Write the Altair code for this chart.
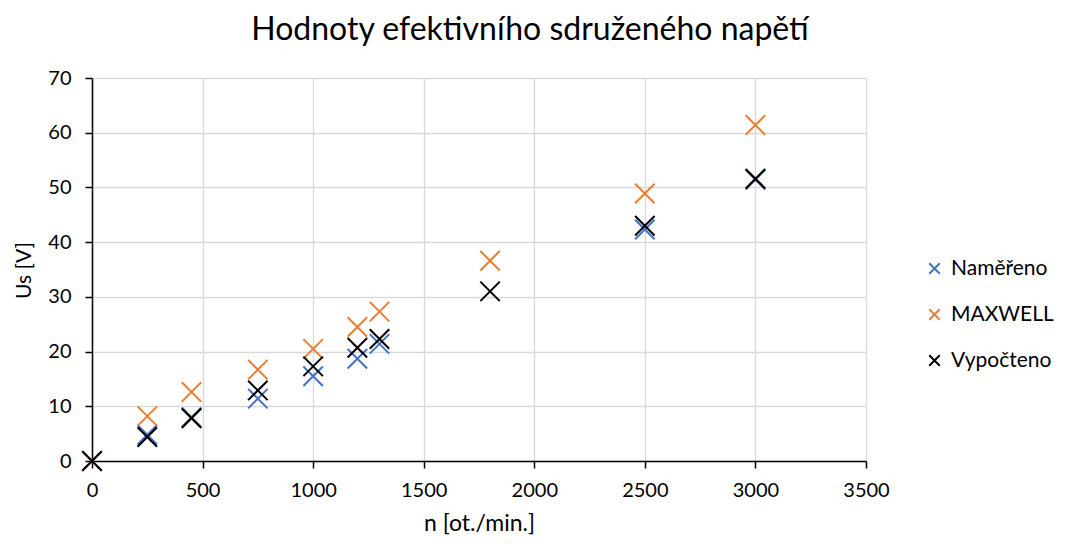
import altair as alt
import pandas as pd

series_names = ["Naměřeno", "MAXWELL", "Vypočteno"]
series_colors = ["#4472C4", "#ED7D31", "#000000"]

n_namereno = [0, 250, 450, 750, 1000, 1200, 1300, 2500, 3000]
us_namereno = [0, 4.8, 8.0, 11.4, 15.5, 18.7, 21.4, 42.3, 51.4]

n_maxwell = [0, 250, 450, 750, 1000, 1200, 1300, 1800, 2500, 3000]
us_maxwell = [0, 8.2, 12.6, 16.7, 20.5, 24.5, 27.3, 36.6, 48.9, 61.4]

n_vypocteno = [0, 250, 450, 750, 1000, 1200, 1300, 1800, 2500, 3000]
us_vypocteno = [0, 4.4, 7.8, 12.9, 17.3, 20.7, 22.3, 31.0, 43.0, 51.6]

x_ticks = [0, 500, 1000, 1500, 2000, 2500, 3000, 3500]
y_ticks = [0, 10, 20, 30, 40, 50, 60, 70]

rows = []
for name, xs, ys in zip(series_names,
                        [n_namereno, n_maxwell, n_vypocteno],
                        [us_namereno, us_maxwell, us_vypocteno]):
    for x, y in zip(xs, ys):
        rows.append({"serie": name, "n": x, "us": y})
df = pd.DataFrame(rows)

XPATH = "M-1,-1L1,1M-1,1L1,-1"
FONT = "Lato"

chart = alt.Chart(df).mark_point(
    shape=XPATH, filled=False, size=380, strokeWidth=2, opacity=1
).encode(
    x=alt.X("n:Q", scale=alt.Scale(domain=[0, 3500], nice=False),
            axis=alt.Axis(values=x_ticks, title="n [ot./min.]", format="d",
                          labelFlush=False, titleFontSize=23, titlePadding=12)),
    y=alt.Y("us:Q", scale=alt.Scale(domain=[0, 70], nice=False),
            axis=alt.Axis(values=y_ticks, title="Us [V]", format="d",
                          labelFlush=False, titleFontSize=21,
                          titleX=-58, titleY=192, titleBaseline="bottom",
                          titleAlign="center", titleAngle=270)),
    color=alt.Color("serie:N",
                    scale=alt.Scale(domain=series_names, range=series_colors),
                    legend=alt.Legend(title=None, orient="none",
                                      legendX=832, legendY=180,
                                      symbolType=XPATH, symbolSize=110,
                                      symbolStrokeWidth=2, symbolFillColor="transparent",
                                      labelFont=FONT, labelFontSize=21, labelColor="#000000",
                                      labelOffset=6, rowPadding=24, padding=0)),
    order=alt.Order("ord:Q"),
).transform_calculate(
    ord="datum.serie == 'Naměřeno' ? 0 : (datum.serie == 'MAXWELL' ? 1 : 2)"
).properties(
    width=774, height=383,
    title=alt.TitleParams("Hodnoty efektivního sdruženého napětí", font=FONT,
                          fontSize=32, fontWeight="normal", color="#000000",
                          anchor="middle", dx=51, offset=21),
    autosize=alt.AutoSizeParams(type="none"),
    padding={"left": 84, "top": 70, "right": 192, "bottom": 75},
).configure_view(
    stroke=None
).configure_axis(
    labelFont=FONT, labelFontSize=20, labelColor="#000000",
    titleFont=FONT, titleColor="#000000", titleFontWeight="normal",
    domainColor="#000000", domainWidth=1.5,
    tickColor="#000000", tickWidth=1.5, tickSize=7,
    gridColor="#D9D9D9", gridWidth=1.3,
).configure_axisX(
    labelPadding=12
).configure_axisY(
    labelPadding=14
)

chart.save("out.html", embed_options={"renderer": "svg", "actions": False})
